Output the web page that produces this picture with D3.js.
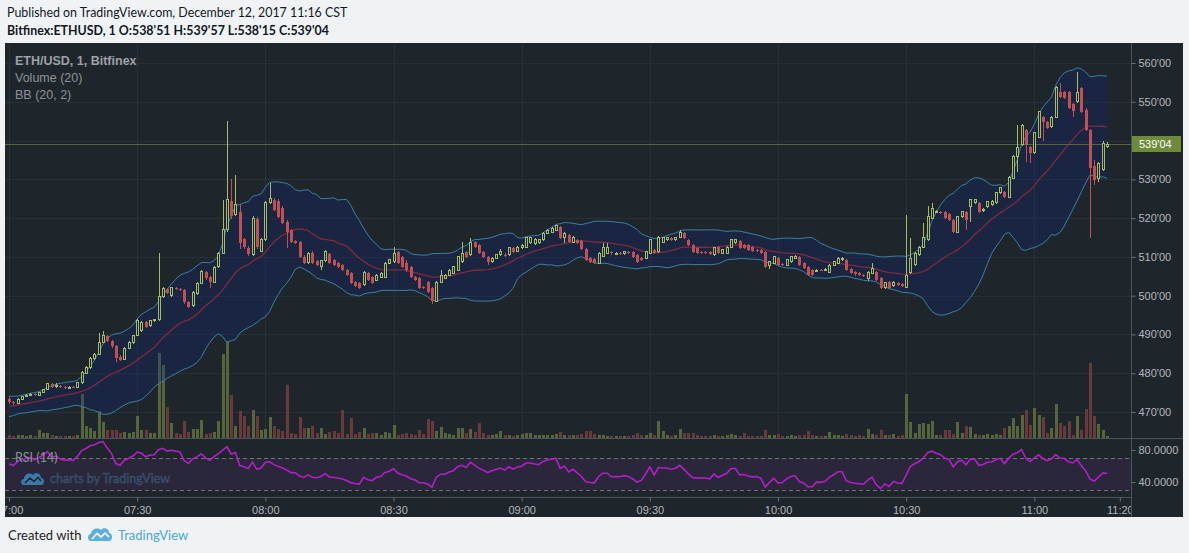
<!DOCTYPE html>
<html>
<head>
<meta charset="utf-8">
<script src="https://cdn.jsdelivr.net/npm/d3@7"></script>
<style>
  body { margin: 0; background: #f0f3f6; }
  svg text { font-family: "Liberation Sans", Arial, sans-serif; }
</style>
</head>
<body>
<svg id="chart" width="1189" height="553"></svg>
<script>
// ETHUSD 1-minute bars, Bitfinex, 12 Dec 2017 from 07:00
const opens = [
  473.3,472.6,472.3,473.2,474.0,474.2,474.6,474.3,475.0,475.8,
  477.3,476.5,476.8,476.4,476.2,476.4,476.3,477.5,480.0,481.4,
  483.8,484.9,488.0,489.5,488.2,487.0,484.2,483.6,486.4,487.9,
  489.8,490.9,493.2,492.3,493.5,493.8,499.8,501.8,500.0,502.0,
  501.7,501.4,498.4,497.4,500.5,503.2,506.0,504.8,503.4,507.4,
  511.0,517.0,524.5,521.0,521.5,514.5,512.3,510.5,519.8,511.5,
  514.5,524.0,524.7,524.5,522.6,519.0,517.0,514.0,513.8,510.0,
  508.5,511.0,508.9,507.5,509.0,510.8,509.2,508.4,507.9,506.6,
  505.8,503.5,503.3,502.8,505.8,504.8,504.0,504.8,504.8,508.4,
  508.7,511.3,510.0,508.5,507.4,504.8,504.5,502.2,503.5,502.0,
  498.6,503.5,504.5,505.3,505.8,506.6,508.7,511.3,510.5,513.8,
  513.0,511.3,510.0,508.7,509.7,510.5,510.6,510.5,512.3,511.5,
  512.3,512.5,513.6,513.4,513.6,514.4,516.1,516.4,516.9,517.7,
  514.9,515.6,513.8,514.4,514.1,512.0,509.7,509.4,508.4,510.2,
  511.0,511.2,510.9,511.0,510.9,511.2,511.3,510.5,509.7,509.7,
  511.0,511.8,511.3,513.8,514.4,514.9,514.4,515.1,516.1,514.4,
  513.0,512.3,511.3,511.3,511.3,510.5,512.5,511.0,511.0,512.5,
  513.6,514.1,513.0,513.0,512.5,511.8,511.8,511.3,507.9,508.4,
  509.7,508.2,507.9,508.7,509.7,510.0,508.4,507.4,506.6,506.4,
  506.6,506.6,506.1,507.9,508.4,509.2,509.2,506.8,506.1,505.8,
  505.3,504.5,505.8,506.1,504.5,502.0,503.5,502.5,503.3,503.0,
  502.2,506.0,508.0,510.5,512.5,514.4,520.0,521.6,521.6,521.6,
  521.0,519.5,516.4,520.3,521.6,522.9,523.9,523.9,522.0,522.9,
  523.4,523.9,526.5,526.7,525.4,530.3,536.0,538.9,542.7,538.3,
  536.8,540.9,546.0,544.8,543.5,546.0,552.5,552.5,552.5,549.5,
  550.0,553.5,548.0,542.7,533.5,530.3,532.5,538.51
];
const highs = [
  473.8,472.9,473.5,474.2,474.6,474.9,474.8,475.2,476.0,477.5,
  477.6,477.4,477.0,476.6,476.6,476.7,477.8,480.5,481.8,484.1,
  485.2,490.4,490.8,489.8,488.5,487.3,484.6,486.8,488.2,489.9,
  493.9,493.5,493.5,493.8,494.1,511.0,502.2,502.0,502.3,502.2,
  501.9,501.6,498.6,501.2,503.6,506.5,506.4,505.0,507.6,511.3,
  524.7,545.0,530.0,531.0,523.6,515.0,512.8,520.5,520.3,514.8,
  524.3,529.0,525.2,525.0,523.0,519.4,517.3,514.4,514.1,510.4,
  511.3,511.4,509.3,509.3,511.8,511.1,509.5,508.7,508.2,506.9,
  506.1,503.8,503.6,506.3,506.1,505.1,505.6,506.1,508.7,509.5,
  512.5,511.6,510.3,509.2,507.7,505.1,504.8,502.5,503.8,502.3,
  503.8,506.6,505.6,506.9,507.7,510.3,513.8,511.6,514.9,514.1,
  513.3,511.6,510.3,510.0,510.8,512.0,510.9,512.6,512.6,512.8,
  513.3,515.2,515.2,514.9,514.7,516.4,517.2,517.7,518.3,518.0,
  516.4,515.9,515.4,514.7,514.4,512.3,510.0,509.7,511.3,513.6,
  513.6,511.5,511.3,511.3,511.6,511.5,511.6,510.8,510.0,511.6,
  514.7,512.1,515.4,515.2,515.2,515.2,515.2,516.9,516.4,514.7,
  513.3,512.6,511.6,511.6,511.6,512.6,512.8,512.1,512.8,514.7,
  514.7,514.4,513.3,513.3,512.8,512.1,512.1,511.6,509.0,510.3,
  510.0,508.5,509.5,510.3,510.5,510.3,508.7,507.7,506.9,506.9,
  507.0,507.1,508.2,509.0,510.0,510.0,509.5,507.1,506.4,506.1,
  505.6,506.4,508.5,506.4,504.8,503.6,503.8,503.8,503.6,503.3,
  520.8,515.0,511.3,512.8,518.7,523.0,524.0,522.1,521.9,521.9,
  521.3,519.8,520.6,521.9,521.9,525.0,525.0,524.2,522.5,524.5,
  524.7,526.8,528.1,527.0,530.9,536.3,544.0,544.3,543.0,538.6,
  542.3,547.7,546.3,545.1,546.3,554.1,554.8,552.8,552.8,549.8,
  557.7,553.8,548.3,543.0,535.0,534.5,540.0,539.57
];
const lows = [
  472.0,471.9,472.1,473.0,473.8,474.0,474.1,474.2,474.8,475.6,
  476.2,476.3,476.1,475.9,476.0,476.1,476.2,477.3,479.8,481.2,
  483.5,484.6,487.7,488.0,486.6,483.0,483.1,483.4,486.2,487.6,
  489.5,490.6,491.7,492.0,493.2,493.5,499.5,500.5,499.6,501.5,
  501.2,497.9,496.8,497.1,500.2,503.0,504.0,502.0,503.2,507.1,
  510.8,516.5,519.8,520.6,512.0,512.0,510.2,510.2,512.0,511.2,
  514.2,523.7,521.8,520.0,518.4,512.3,513.5,513.2,509.7,508.2,
  508.2,508.2,507.6,506.6,508.7,508.1,507.6,507.1,506.3,505.0,
  503.0,502.2,501.7,502.5,503.7,503.0,503.7,504.5,504.5,508.1,
  508.4,508.1,507.1,506.2,504.5,503.7,501.7,501.6,500.7,497.8,
  498.3,503.2,504.2,505.0,505.5,506.3,508.4,509.7,510.2,512.2,
  510.7,509.7,508.0,508.4,509.4,510.2,510.1,510.2,511.0,511.2,
  512.0,512.2,513.3,513.1,513.3,514.1,515.8,516.1,516.6,514.6,
  513.6,513.5,513.5,513.3,511.7,508.9,508.4,508.1,508.1,509.9,
  510.7,510.6,510.6,510.6,510.6,510.7,509.7,508.4,508.9,509.4,
  510.7,510.7,511.0,513.5,514.1,514.1,514.1,514.8,514.6,512.7,
  511.0,510.7,510.8,510.7,510.4,510.2,510.7,510.7,510.7,512.2,
  513.3,512.0,512.0,511.5,511.2,511.3,510.7,507.1,506.8,508.1,
  507.6,507.7,507.6,508.4,509.4,507.6,506.8,505.0,505.0,506.1,
  506.3,506.3,505.8,507.6,508.1,508.9,506.3,505.5,505.2,505.0,
  504.8,503.8,505.5,503.7,501.7,501.7,501.7,502.2,502.5,502.3,
  501.9,505.7,507.7,510.2,512.2,514.1,519.7,521.3,521.1,519.7,
  519.2,516.1,516.1,520.0,516.9,519.0,523.6,521.3,521.7,522.6,
  523.1,523.6,526.2,525.1,525.1,530.0,532.0,538.6,534.5,534.2,
  536.5,540.6,540.0,542.9,543.2,545.7,550.9,550.7,548.1,546.0,
  549.7,547.1,542.4,514.9,528.5,529.3,532.2,538.15
];
const closes = [
  472.5,472.2,473.3,474.0,474.3,474.6,474.3,475.0,475.8,477.3,
  476.5,476.8,476.4,476.2,476.4,476.3,477.5,480.2,481.5,483.8,
  484.8,488.0,489.6,488.2,486.9,484.0,483.4,486.5,487.9,489.6,
  493.6,493.2,492.0,493.5,493.8,499.7,501.8,500.8,502.0,501.7,
  501.4,498.3,497.2,500.8,503.1,506.2,504.5,503.4,507.2,511.0,
  517.0,524.7,520.5,523.5,513.5,512.5,510.8,519.8,512.5,514.4,
  524.0,525.0,522.1,520.3,518.7,516.4,513.8,513.6,510.0,508.5,
  511.0,508.5,507.9,509.0,511.5,508.4,507.9,507.4,506.6,505.3,
  503.3,502.5,502.0,506.0,504.0,503.3,505.3,505.8,508.4,509.2,
  511.0,508.4,507.4,506.5,504.8,504.0,502.0,501.9,501.0,498.6,
  503.5,505.3,505.3,506.6,507.4,510.0,511.0,510.0,513.8,512.5,
  511.0,510.0,508.7,509.7,510.5,511.3,510.4,512.3,511.3,512.5,
  513.0,514.9,514.9,514.6,514.4,516.1,516.9,517.4,518.0,514.9,
  516.1,513.8,515.1,513.6,512.0,509.2,508.7,508.4,511.0,512.5,
  512.5,510.9,511.0,510.9,511.3,511.0,510.0,508.7,509.2,511.3,
  514.4,511.0,515.1,514.9,514.9,514.4,514.9,516.4,514.9,513.0,
  511.3,511.0,511.1,511.0,510.7,512.3,511.0,511.8,512.5,514.4,
  514.4,512.3,512.3,511.8,511.5,511.6,511.0,507.4,508.7,510.0,
  507.9,508.0,509.2,510.0,510.2,507.9,507.1,505.3,505.3,506.6,
  506.5,506.8,507.9,508.7,509.7,509.7,506.6,505.8,505.5,505.3,
  505.1,506.1,506.9,504.0,502.0,503.3,502.0,503.5,502.8,502.6,
  505.3,509.5,511.0,512.5,515.1,520.5,522.6,521.8,521.4,520.0,
  519.5,516.4,520.3,521.6,519.5,524.7,524.7,521.6,522.2,524.2,
  524.4,526.5,527.8,525.4,530.6,536.0,538.3,544.0,538.9,536.8,
  542.0,547.4,544.8,543.2,546.0,553.8,551.2,551.0,548.4,547.5,
  552.3,547.4,542.7,533.0,529.8,534.2,539.3,539.04
];
const volumes = [
  3,2,3,3,2,3,2,8,5,5,
  3,2,2,2,2,2,3,44,12,10,
  7,27,16,8,8,8,5,6,5,6,
  22,8,8,5,5,85,73,31,15,5,
  4,17,6,9,9,18,4,5,6,17,
  84,97,43,12,27,22,12,28,22,8,
  9,21,12,9,7,53,5,4,21,10,
  10,12,5,10,4,6,7,5,28,4,
  20,4,6,10,4,5,5,3,6,5,
  13,3,4,5,4,3,8,4,19,17,
  7,11,5,4,3,10,10,5,9,6,
  15,5,3,3,4,7,3,3,2,3,
  4,5,5,3,3,3,3,3,4,6,
  3,3,3,3,4,7,7,4,3,3,
  2,2,2,2,2,2,3,5,3,3,
  5,3,17,7,3,2,3,9,5,5,
  5,3,2,2,2,3,2,2,3,4,
  3,2,5,2,2,2,2,8,3,3,
  4,2,2,3,2,3,3,7,3,2,
  2,2,6,3,3,2,4,3,2,3,
  2,9,4,3,8,3,3,4,2,3,
  44,16,5,14,15,14,17,3,3,8,
  8,4,16,5,12,11,4,3,3,4,
  3,4,3,10,12,20,12,23,28,13,
  30,23,21,5,10,34,15,12,17,3,
  22,8,29,75,22,14,8,2
];
// closes of the 20 bars before 07:00, only used to seed BB and RSI
const priorCloses = [
  468.8,469.5,469.0,469.8,470.4,470.0,470.9,470.5,471.3,471.0,
  470.6,471.5,472.1,471.8,472.6,472.2,473.0,473.6,473.0,473.4
];
const priceTicks = [470, 480, 490, 500, 510, 520, 530, 540, 550, 560];
const rsiTicks = [40, 80];
const rsiBands = [30, 70];
const timeTicks = ["07:00","07:30","08:00","08:30","09:00","09:30","10:00","10:30","11:00","11:20"];

const W = 1189, H = 553;
const L = 5, R = 1131, FR = 1183, T = 43, PB = 438, RB = 497, B = 517;
const bg = "#1f262b", gridC = "#293137", textC = "#b2b6bb";
const upC = "#a2bd65", dnC = "#bf5054";

const svg = d3.select("#chart");

const t0 = new Date(2017, 11, 12, 7, 0);
const times = closes.map((d, i) => d3.timeMinute.offset(t0, i));
const x = d3.scaleTime().domain([t0, times[times.length - 1]]).range([9, 1107]);
const y = d3.scaleLinear().domain([470, 560]).range([412, 63]);
const yVol = d3.scaleLinear().domain([0, d3.max(volumes)]).range([PB, PB - 97]);
const yRsi = d3.scaleLinear().domain([40, 80]).range([482, 450]);

// bollinger + rsi from closes
const all = priorCloses.concat(closes);
const bb = closes.map((c, i) => {
    const win = all.slice(i + 1, i + 21);
    const m = d3.mean(win);
    const sd = Math.sqrt(d3.mean(win, v => (v - m) * (v - m)));
    return { t: times[i], mid: m, up: m + 2 * sd, lo: m - 2 * sd };
});
function rsi(values, n) {
    const out = new Array(values.length).fill(null);
    let ag = 0, al = 0;
    for (let i = 1; i < values.length; i++) {
        const ch = values[i] - values[i - 1];
        const g = Math.max(ch, 0), l = Math.max(-ch, 0);
        if (i <= n) { ag += g / n; al += l / n; }
        else { ag = (ag * (n - 1) + g) / n; al = (al * (n - 1) + l) / n; }
        if (i >= n) out[i] = al === 0 ? 100 : 100 - 100 / (1 + ag / al);
    }
    return out;
}
const rsiAll = rsi(all, 14);
const rsiVals = closes.map((c, i) => ({ t: times[i], v: rsiAll[i + 20] }));
const last = closes[closes.length - 1];

// header
svg.append("text").attr("x", 7).attr("y", 17)
    .style("font-family", "Lato, 'Open Sans', sans-serif").style("font-size", "12.4px").attr("fill", "#131722")
    .text("Published on TradingView.com, December 12, 2017 11:16 CST");
svg.append("text").attr("x", 7).attr("y", 35)
    .style("font-family", "Lato, 'Open Sans', sans-serif").style("font-size", "12.4px").style("font-weight", "bold").attr("fill", "#131722")
    .text("Bitfinex:ETHUSD, 1  O:538'51 H:539'57 L:538'15 C:539'04");

// frame
svg.append("rect").attr("x", L).attr("y", T).attr("width", FR - L).attr("height", B - T).attr("fill", bg);

const defs = svg.append("defs");
defs.append("clipPath").attr("id", "pClip").append("rect")
    .attr("x", L).attr("y", T).attr("width", R - L).attr("height", PB - T);
defs.append("clipPath").attr("id", "rClip").append("rect")
    .attr("x", L).attr("y", PB).attr("width", R - L).attr("height", RB - PB);
defs.append("clipPath").attr("id", "tClip").append("rect")
    .attr("x", L).attr("y", RB).attr("width", R - L).attr("height", B - RB);

const tickDates = timeTicks.map(s => {
    const [hh, mm] = s.split(":").map(Number);
    return new Date(2017, 11, 12, hh, mm);
});

// grid
const grid = svg.append("g").attr("clip-path", "url(#pClip)").attr("shape-rendering", "crispEdges");
grid.selectAll(".hg").data(priceTicks).join("line")
    .attr("x1", L).attr("x2", R).attr("y1", d => Math.round(y(d)) + 0.5).attr("y2", d => Math.round(y(d)) + 0.5)
    .attr("stroke", gridC);
grid.selectAll(".vg").data(tickDates.slice(0, 9)).join("line")
    .attr("y1", T).attr("y2", PB).attr("x1", d => Math.round(x(d)) + 0.5).attr("x2", d => Math.round(x(d)) + 0.5)
    .attr("stroke", gridC);

const plot = svg.append("g").attr("clip-path", "url(#pClip)");

// volume
plot.append("g").attr("shape-rendering", "crispEdges").selectAll("rect").data(volumes).join("rect")
    .attr("x", (d, i) => Math.round(x(times[i])) - 1).attr("width", 3)
    .attr("y", d => yVol(d)).attr("height", d => PB - yVol(d))
    .attr("fill", (d, i) => closes[i] >= opens[i] ? "#56653a" : "#693a3c");

// bollinger band
plot.append("path").datum(bb)
    .attr("d", d3.area().x(d => x(d.t)).y0(d => y(d.lo)).y1(d => y(d.up)))
    .attr("fill", "rgb(18,35,116)").attr("fill-opacity", 0.3);
plot.append("path").datum(bb).attr("d", d3.line().x(d => x(d.t)).y(d => y(d.mid)))
    .attr("fill", "none").attr("stroke", "#7f2a3e").attr("stroke-width", 1.3);
["up", "lo"].forEach(k => {
    plot.append("path").datum(bb).attr("d", d3.line().x(d => x(d.t)).y(d => y(d[k])))
        .attr("fill", "none").attr("stroke", "#3b80a2").attr("stroke-width", 1);
});

// last price line
plot.append("line").attr("x1", L).attr("x2", R)
    .attr("y1", Math.round(y(last)) + 0.5).attr("y2", Math.round(y(last)) + 0.5)
    .attr("stroke", "#56653a").attr("stroke-width", 1);

// candles
const cg = plot.append("g").attr("shape-rendering", "crispEdges");
const bars = cg.selectAll("g").data(closes).join("g");
bars.append("line")
    .attr("x1", (d, i) => Math.round(x(times[i])) + 0.5).attr("x2", (d, i) => Math.round(x(times[i])) + 0.5)
    .attr("y1", (d, i) => y(highs[i])).attr("y2", (d, i) => y(lows[i]))
    .attr("stroke", (d, i) => d >= opens[i] ? upC : dnC);
bars.append("rect")
    .attr("x", (d, i) => d >= opens[i] ? Math.round(x(times[i])) - 0.5 : Math.round(x(times[i])) - 1)
    .attr("width", (d, i) => d >= opens[i] ? 2 : 3)
    .attr("y", (d, i) => y(Math.max(d, opens[i])))
    .attr("height", (d, i) => Math.max(1, Math.abs(y(d) - y(opens[i]))))
    .attr("fill", (d, i) => d >= opens[i] ? bg : dnC)
    .attr("stroke", (d, i) => d >= opens[i] ? upC : "none");

// legend
const lg = svg.append("g").style("font-family", "Lato, 'Open Sans', sans-serif").style("font-size", "12.5px");
lg.append("text").attr("x", 15).attr("y", 65).attr("fill", "#9ba1a7").style("font-weight", "bold").text("ETH/USD, 1, Bitfinex");
lg.append("text").attr("x", 15).attr("y", 82).attr("fill", "#8c9298").text("Volume (20)");
lg.append("text").attr("x", 15).attr("y", 99).attr("fill", "#8c9298").text("BB (20, 2)");

// rsi pane
const rp = svg.append("g").attr("clip-path", "url(#rClip)");
rp.append("rect").attr("x", L).attr("width", R - L)
    .attr("y", yRsi(rsiBands[1])).attr("height", yRsi(rsiBands[0]) - yRsi(rsiBands[1]))
    .attr("fill", "rgb(150,60,210)").attr("fill-opacity", 0.09);
rp.selectAll(".rb").data(rsiBands).join("line")
    .attr("x1", L).attr("x2", R).attr("y1", d => Math.round(yRsi(d)) + 0.5).attr("y2", d => Math.round(yRsi(d)) + 0.5)
    .attr("stroke", "#6f7379").attr("stroke-dasharray", "4,3");
rp.append("path").datum(rsiVals)
    .attr("d", d3.line().x(d => x(d.t)).y(d => yRsi(d.v)))
    .attr("fill", "none").attr("stroke", "#b21fc8").attr("stroke-width", 1.6);
svg.append("text").attr("x", 15).attr("y", 462).attr("fill", "#8c9298")
    .style("font-family", "Lato, 'Open Sans', sans-serif").style("font-size", "12.5px").text("RSI (14)");

// watermark
const wm = svg.append("g").attr("transform", "translate(21,472)");
wm.append("path")
    .attr("d", "M3,13 C-1,13 -1,7 3,7 C3,2 9,0 12,3 C14,0 20,1 20,6 C24,6 24,13 20,13 Z")
    .attr("fill", "#3a79a8");
wm.append("path").attr("d", "M4,11 L9,6 L13,9.5 L17,5.5 L20,9")
    .attr("fill", "none").attr("stroke", "#1f262b").attr("stroke-width", 1.6);
svg.append("text").attr("x", 50).attr("y", 483).attr("fill", "#30475b").attr("stroke", "#3c5a73").attr("stroke-width", 0.4)
    .style("font-family", "Lato, 'Open Sans', sans-serif").style("font-size", "12.5px").text("charts by TradingView");

// separators
const sep = svg.append("g").attr("shape-rendering", "crispEdges");
sep.append("line").attr("x1", L).attr("x2", FR).attr("y1", PB + 0.5).attr("y2", PB + 0.5).attr("stroke", "#4c545b");
sep.append("line").attr("x1", L).attr("x2", R).attr("y1", RB + 0.5).attr("y2", RB + 0.5).attr("stroke", "#4c545b");
sep.append("line").attr("x1", R + 0.5).attr("x2", R + 0.5).attr("y1", T).attr("y2", B).attr("stroke", "#4c545b");

// price axis (the tick under the last-price label is hidden, as on the chart)
const fmtPrice = d => d3.format(".2f")(d).replace(".", "'");
const pAxis = svg.append("g").attr("transform", `translate(${R + 0.5},0)`)
    .call(d3.axisRight(y).tickValues(priceTicks.filter(d => Math.abs(y(d) - y(last)) > 12))
        .tickSize(4).tickPadding(3).tickFormat(fmtPrice));
pAxis.select(".domain").remove();
pAxis.selectAll("line").attr("stroke", "#6a7077");
pAxis.selectAll("text").attr("fill", textC).style("font-size", "11px");

// last price label
svg.append("rect").attr("x", R + 1).attr("y", Math.round(y(last)) - 8).attr("width", 49).attr("height", 16).attr("fill", "#6f8a3a");
svg.append("text").attr("x", R + 8).attr("y", Math.round(y(last)) + 4).attr("fill", "#ffffff")
    .style("font-size", "11px").text(fmtPrice(last));

// rsi axis
const rAxis = svg.append("g").attr("transform", `translate(${R + 0.5},0)`)
    .call(d3.axisRight(yRsi).tickValues(rsiTicks).tickSize(4).tickPadding(3).tickFormat(d3.format(".4f")));
rAxis.select(".domain").remove();
rAxis.selectAll("line").attr("stroke", "#6a7077");
rAxis.selectAll("text").attr("fill", textC).style("font-size", "11px");

// time axis
const tAxis = svg.append("g").attr("clip-path", "url(#tClip)").append("g").attr("transform", `translate(0,${RB + 0.5})`)
    .call(d3.axisBottom(x).tickValues(tickDates).tickSize(4).tickPadding(5).tickFormat(d3.timeFormat("%H:%M")));
tAxis.select(".domain").remove();
tAxis.selectAll("line").attr("stroke", "#6a7077");
tAxis.selectAll("text").attr("fill", textC).style("font-size", "11px");

// footer
svg.append("text").attr("x", 8).attr("y", 540).attr("fill", "#222")
    .style("font-family", "Lato, 'Open Sans', sans-serif").style("font-size", "13px").text("Created with");
const fl = svg.append("g").attr("transform", "translate(88,527)");
fl.append("path")
    .attr("d", "M3,14 C-1,14 -1,7 3,7 C3,2 10,0 13,3 C15,0 21,1 21,6 C25,6 25,14 21,14 Z")
    .attr("fill", "#5aaee0");
fl.append("path").attr("d", "M4,12 L9,6.5 L13,10 L17,6 L21,10")
    .attr("fill", "none").attr("stroke", "#f0f3f6").attr("stroke-width", 1.8);
svg.append("text").attr("x", 118).attr("y", 540).attr("fill", "#4ba6dc")
    .style("font-family", "Lato, 'Open Sans', sans-serif").style("font-size", "13px").text("TradingView");
</script>
</body>
</html>
